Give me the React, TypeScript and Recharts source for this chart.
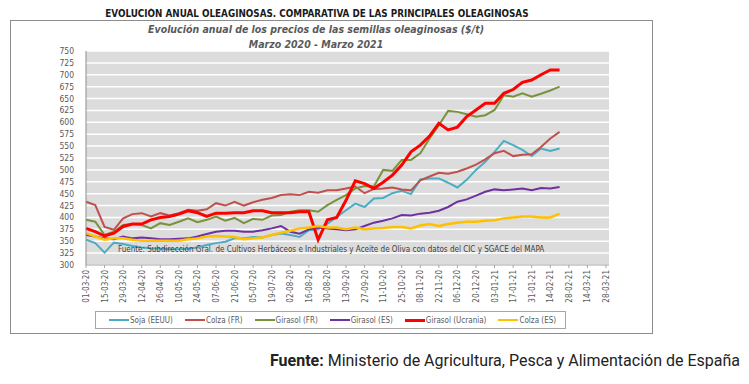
import React from "react";
import { LineChart, Line, XAxis, YAxis, CartesianGrid } from "recharts";

const weeks = [
  "01-03-20", "08-03-20", "15-03-20", "22-03-20", "29-03-20", "05-04-20", "12-04-20", "19-04-20",
  "26-04-20", "03-05-20", "10-05-20", "17-05-20", "24-05-20", "31-05-20", "07-06-20", "14-06-20",
  "21-06-20", "28-06-20", "05-07-20", "12-07-20", "19-07-20", "26-07-20", "02-08-20", "09-08-20",
  "16-08-20", "23-08-20", "30-08-20", "06-09-20", "13-09-20", "20-09-20", "27-09-20", "04-10-20",
  "11-10-20", "18-10-20", "25-10-20", "01-11-20", "08-11-20", "15-11-20", "22-11-20", "29-11-20",
  "06-12-20", "13-12-20", "20-12-20", "27-12-20", "03-01-21", "10-01-21", "17-01-21", "24-01-21",
  "31-01-21", "07-02-21", "14-02-21", "21-02-21", "28-02-21", "07-03-21", "14-03-21", "21-03-21",
  "28-03-21",
];

const sojaEEUU = [
  353, 346, 326, 347, 344, 340, 337, 335, 334, 333, 333, 334, 337, 342, 346, 349,
  356, 356, 359, 358, 363, 366, 363, 359, 373, 375, 387, 401, 415, 429, 422, 440,
  441, 451, 456, 449, 480, 482, 482, 473, 463, 479, 500, 517, 538, 561, 552, 542,
  529, 545, 540, 545,
];
const colzaFR = [
  433, 426, 380, 374, 398, 407, 409, 402, 409, 404, 409, 416, 414, 417, 430, 425,
  433, 425, 432, 437, 441, 447, 449, 447, 454, 452, 457, 457, 461, 465, 451, 460,
  461, 463, 459, 457, 478, 486, 494, 492, 496, 503, 511, 522, 535, 540, 529, 532,
  533, 548, 566, 580,
];
const girasolFR = [
  395, 391, 363, 370, 384, 386, 384, 377, 388, 384, 391, 398, 390, 395, 402, 393,
  399, 388, 397, 395, 404, 405, 412, 415, 415, 412, 426, 437, 447, 461, 466, 465,
  500, 498, 521, 521, 535, 566, 594, 624, 622, 617, 612, 615, 626, 657, 654, 661,
  654, 660, 667, 675,
];
const girasolES = [
  363, 360, 356, 354, 360, 356, 358, 356, 354, 354, 355, 356, 360, 365, 370, 372,
  372, 370, 370, 373, 377, 382, 370, 366, 375, 379, 377, 375, 373, 375, 382, 389,
  393, 398, 405, 404, 408, 410, 414, 422, 433, 438, 446, 454, 459, 457, 459, 461,
  457, 462, 461, 464,
];
const girasolUcrania = [
  377, 370, 361, 367, 381, 386, 386, 395, 400, 402, 407, 414, 410, 402, 409, 409,
  410, 410, 414, 414, 410, 410, 410, 412, 412, 353, 395, 400, 436, 477, 471, 461,
  474, 489, 510, 538, 552, 571, 598, 584, 590, 612, 626, 640, 640, 661, 669, 684,
  689, 700, 710, 710,
];
const colzaES = [
  367, 360, 353, 356, 356, 353, 351, 351, 351, 351, 351, 354, 356, 360, 361, 360,
  359, 354, 356, 358, 363, 368, 372, 377, 379, 382, 379, 379, 375, 379, 375, 377,
  378, 380, 380, 377, 383, 386, 382, 386, 389, 391, 391, 393, 394, 398, 400, 402,
  402, 400, 400, 408,
];

const yTicks = [300, 325, 350, 375, 400, 425, 450, 475, 500, 525, 550, 575, 600, 625, 650, 675, 700, 725, 750];

const series = [
  { key: "soja", name: "Soja (EEUU)", values: sojaEEUU, color: "#4bacc6", width: 2 },
  { key: "colzaFR", name: "Colza (FR)", values: colzaFR, color: "#c0504d", width: 2 },
  { key: "girasolFR", name: "Girasol (FR)", values: girasolFR, color: "#77933c", width: 2 },
  { key: "girasolES", name: "Girasol (ES)", values: girasolES, color: "#7030a0", width: 2 },
  { key: "girasolUA", name: "Girasol (Ucrania)", values: girasolUcrania, color: "#ff0000", width: 3 },
  { key: "colzaES", name: "Colza (ES)", values: colzaES, color: "#ffc000", width: 2.5 },
];

const data = weeks.map((w, i) => {
  const row: Record<string, any> = { week: w };
  series.forEach((s) => {
    row[s.key] = i < s.values.length ? s.values[i] : null;
  });
  return row;
});

const FONT = "'Liberation Sans Narrow', 'DejaVu Sans Condensed', 'Open Sans', sans-serif";

const XTick = (props: any) => {
  const { x, y, payload } = props;
  return (
    <text
      x={x}
      y={y}
      transform={`rotate(-90 ${x} ${y})`}
      dy={3}
      textAnchor="end"
      fontSize={8}
      fontFamily={FONT}
      fill="#595959"
    >
      {payload.value}
    </text>
  );
};

export default function App() {
  return (
    <div style={{ position: "relative", width: 733, height: 368, background: "#fff" }}>
      <div
        style={{
          position: "absolute",
          left: 8,
          top: -1,
          width: 600,
          textAlign: "center",
          fontFamily: FONT,
          fontWeight: 700,
          fontSize: 11,
          color: "#1a1a1a",
          whiteSpace: "nowrap",
          transform: "scaleX(0.89)",
          transformOrigin: "308px 0",
        }}
      >
        EVOLUCIÓN ANUAL OLEAGINOSAS. COMPARATIVA DE LAS PRINCIPALES OLEAGINOSAS
      </div>
      <div
        style={{
          position: "absolute",
          left: 2,
          top: 12,
          width: 643,
          height: 314,
          border: "1px solid #8c8c8c",
          boxSizing: "border-box",
        }}
      />
      <div
        style={{
          position: "absolute",
          left: 8,
          top: 15,
          width: 600,
          textAlign: "center",
          fontFamily: FONT,
          fontStyle: "italic",
          fontWeight: 700,
          fontSize: 10.5,
          color: "#595959",
          whiteSpace: "nowrap",
        }}
      >
        Evolución anual de los precios de las semillas oleaginosas ($/t)
      </div>
      <div
        style={{
          position: "absolute",
          left: 8,
          top: 30,
          width: 600,
          textAlign: "center",
          fontFamily: FONT,
          fontStyle: "italic",
          fontWeight: 700,
          fontSize: 10.5,
          color: "#595959",
          whiteSpace: "nowrap",
        }}
      >
        Marzo 2020 - Marzo 2021
      </div>
      <div style={{ position: "absolute", left: 0, top: 0 }}>
        <LineChart
          width={733}
          height={368}
          data={data}
          margin={{ top: 43, right: 132, bottom: 71, left: 38 }}
        >
          <CartesianGrid vertical={false} fill="#dcdcdc" stroke="#ffffff" strokeWidth={1.5} />
          <XAxis
            dataKey="week"
            interval={1}
            tick={<XTick />}
            height={40}
            tickLine={{ stroke: "#a6a6a6" }}
            tickSize={3}
            axisLine={{ stroke: "#a6a6a6" }}
            padding={{ left: 0, right: 3 }}
          />
          <YAxis
            domain={[300, 750]}
            ticks={yTicks}
            width={40}
            tickLine={false}
            tickMargin={6}
            axisLine={{ stroke: "#8c8c8c" }}
            tick={{ fontSize: 8.5, fill: "#595959", fontFamily: FONT }}
            interval={0}
          />
          {series.map((s) => (
            <Line
              key={s.key}
              type="linear"
              dataKey={s.key}
              name={s.name}
              stroke={s.color}
              strokeWidth={s.width}
              dot={false}
              isAnimationActive={false}
              connectNulls={false}
            />
          ))}
        </LineChart>
      </div>
      <div
        style={{
          position: "absolute",
          left: 110,
          top: 237,
          fontFamily: FONT,
          fontSize: 8,
          color: "#404040",
          whiteSpace: "nowrap",
        }}
      >
        Fuente: Subdirección Gral. de Cultivos Herbáceos e Industriales y Aceite de Oliva con datos del CIC y SGACE del MAPA
      </div>
      <div
        style={{
          position: "absolute",
          left: 87,
          top: 303,
          width: 471,
          height: 18,
          border: "1px solid #a6a6a6",
          boxSizing: "border-box",
          display: "flex",
          alignItems: "center",
          paddingLeft: 13,
          fontFamily: FONT,
          fontSize: 8,
          color: "#595959",
          whiteSpace: "nowrap",
        }}
      >
        {series.map((s) => (
          <div key={s.key} style={{ display: "flex", alignItems: "center", marginRight: 12 }}>
            <span
              style={{
                display: "inline-block",
                width: 20,
                height: s.width >= 3 ? 3 : 2,
                background: s.color,
                marginRight: 1,
              }}
            />
            <span>{s.name}</span>
          </div>
        ))}
      </div>
      <div
        style={{
          position: "absolute",
          left: 0,
          top: 343,
          width: 732,
          textAlign: "right",
          fontFamily: "Roboto, sans-serif",
          fontSize: 16,
          color: "#222",
          whiteSpace: "nowrap",
        }}
      >
        <b>Fuente:</b> Ministerio de Agricultura, Pesca y Alimentación de España
      </div>
    </div>
  );
}
